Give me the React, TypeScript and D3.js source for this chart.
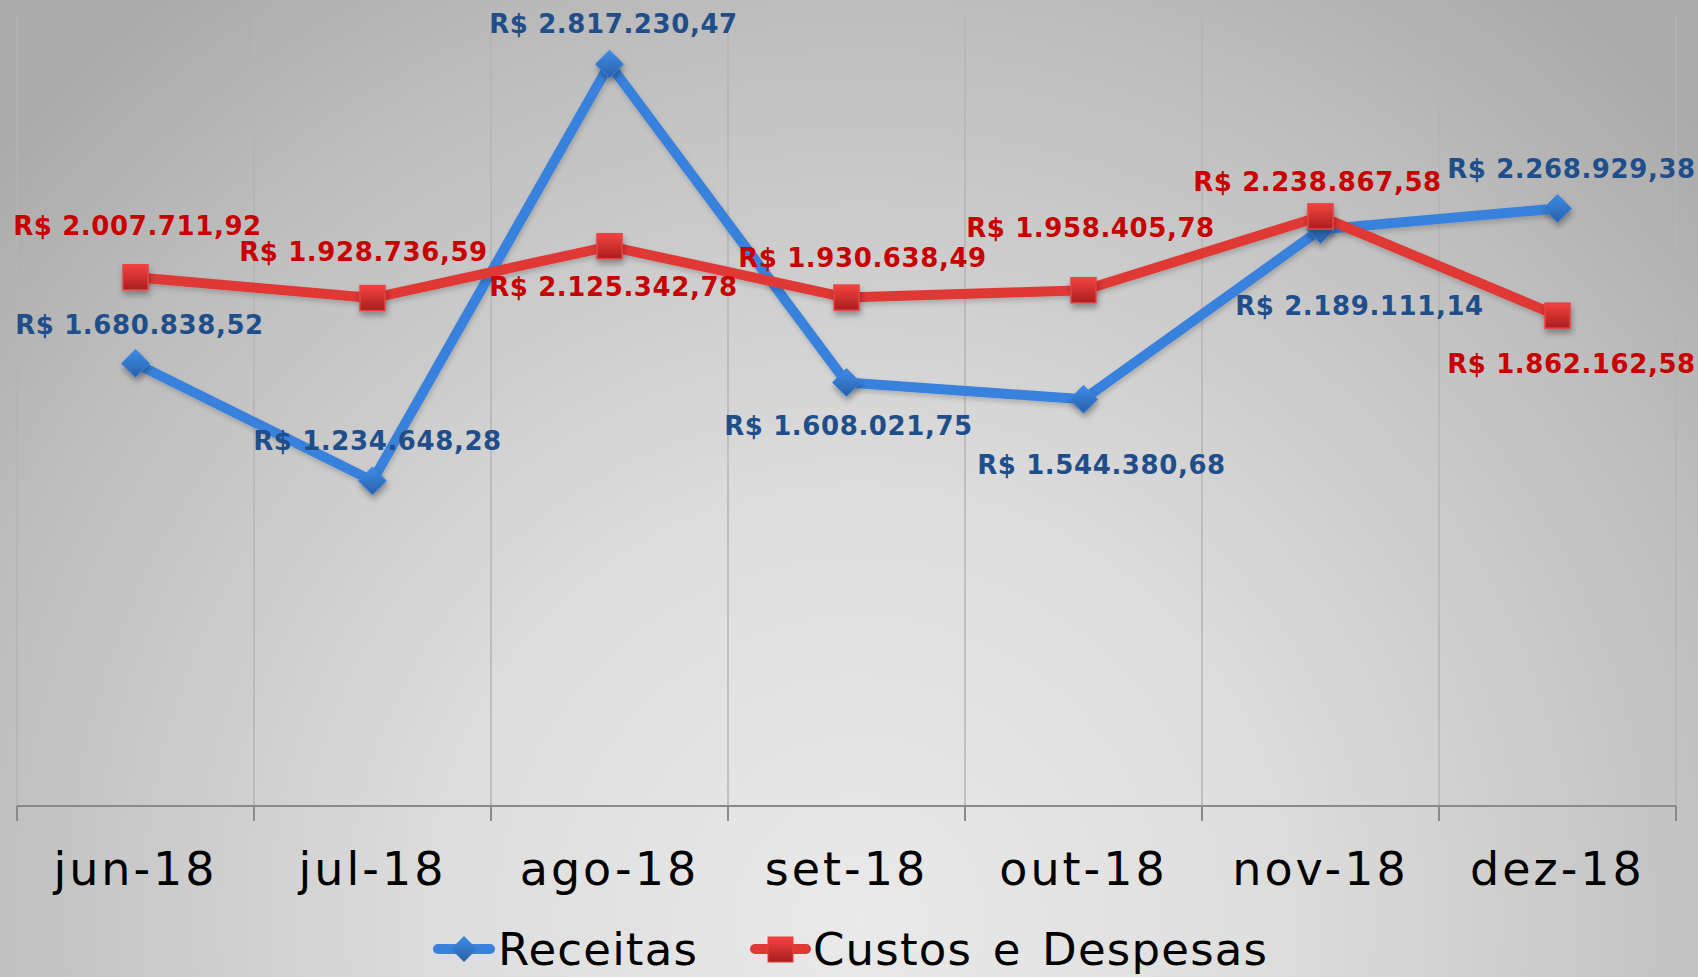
import React from 'react'
import * as d3 from 'd3'

const months = ['jun-18', 'jul-18', 'ago-18', 'set-18', 'out-18', 'nov-18', 'dez-18']
const receitas = [1680838.52, 1234648.28, 2817230.47, 1608021.75, 1544380.68, 2189111.14, 2268929.38]
const custos = [2007711.92, 1928736.59, 2125342.78, 1930638.49, 1958405.78, 2238867.58, 1862162.58]
const seriesNames = ['Receitas', 'Custos e Despesas']

// manual label offsets (dx, baseline dy) like the hand-placed excel labels
const recOffsets = [[4, -29], [5, -31], [4, -31], [2, 52], [18, 75], [39, 85], [14, -31]]
const cusOffsets = [[2, -42], [-9, -37], [4, 50], [16, -31], [7, -53], [-3, -25], [14, 57]]

const W = 1698
const H = 977
const left = 17
const right = 1676
const top = 16
const bottom = 806

const brl = d3.formatLocale({ decimal: ',', thousands: '.', grouping: [3], currency: ['R$ ', ''] }).format('$,.2f')

export default function App () {
  const x = d3.scaleBand().domain(months).range([left, right]).padding(0)
  const y = d3.scaleLinear().domain([0, 3000000]).range([bottom, top])
  const cx = (m: string) => (x(m) as number) + x.bandwidth() / 2

  const line = d3.line<number>()
    .x((d, i) => cx(months[i]))
    .y(d => y(d))

  const bounds = [...months.map(m => x(m) as number), right]

  const diamond = (px: number, py: number, s: number) =>
    `M${px},${py - s} L${px + s},${py} L${px},${py + s} L${px - s},${py} Z`

  const recColor = '#3981dc'
  const cusColor = '#e03836'
  const font = "'DejaVu Sans', Verdana, sans-serif"

  return (
    <svg width={W} height={H} style={{ position: 'absolute', left: 0, top: 0 }}>
      <defs>
        <radialGradient id="bg" gradientUnits="userSpaceOnUse" cx={860} cy={920} r={1150}>
          <stop offset="0" stopColor="#e9e9e9" />
          <stop offset="0.35" stopColor="#dedede" />
          <stop offset="0.8" stopColor="#bdbdbd" />
          <stop offset="1" stopColor="#ababab" />
        </radialGradient>
        <linearGradient id="sq" x1="0" y1="0" x2="0" y2="1">
          <stop offset="0" stopColor="#f5423f" />
          <stop offset="1" stopColor="#a81e1e" />
        </linearGradient>
        <linearGradient id="dm" x1="0" y1="0" x2="0" y2="1">
          <stop offset="0" stopColor="#3d8ce8" />
          <stop offset="1" stopColor="#2a60aa" />
        </linearGradient>
        <filter id="shadow" x="-50%" y="-50%" width="200%" height="200%">
          <feDropShadow dx="1" dy="4" stdDeviation="3" floodColor="#000" floodOpacity="0.35" />
        </filter>
        <filter id="lshadow" x="-10%" y="-10%" width="120%" height="120%">
          <feDropShadow dx="1" dy="3" stdDeviation="2.5" floodColor="#000" floodOpacity="0.18" />
        </filter>
      </defs>
      <rect width={W} height={H} fill="url(#bg)" />

      {/* vertical gridlines */}
      {bounds.map((b, i) => (
        <line key={'g' + i} x1={b} x2={b} y1={top} y2={bottom} stroke="#b4b4b4" strokeWidth={1.5} />
      ))}
      {/* axis */}
      <line x1={left} x2={right} y1={bottom} y2={bottom} stroke="#8a8a8a" strokeWidth={2} />
      {bounds.map((b, i) => (
        <line key={'t' + i} x1={b} x2={b} y1={bottom} y2={bottom + 15} stroke="#8a8a8a" strokeWidth={2} />
      ))}
      {months.map(m => (
        <text key={m} x={cx(m)} y={885} textAnchor="middle" fontFamily={font}
          fontSize={46} letterSpacing={3} fill="#000">{m}</text>
      ))}

      {/* lines */}
      <path d={line(receitas) || ''} fill="none" stroke={recColor} strokeWidth={10} strokeLinejoin="round" filter="url(#lshadow)" />
      <path d={line(custos) || ''} fill="none" stroke={cusColor} strokeWidth={10} strokeLinejoin="round" filter="url(#lshadow)" />

      {/* markers */}
      {receitas.map((v, i) => (
        <path key={'rm' + i} d={diamond(cx(months[i]), y(v), 14)} fill="url(#dm)" stroke="#3a86e0" strokeWidth={1} filter="url(#shadow)" />
      ))}
      {custos.map((v, i) => (
        <rect key={'cm' + i} x={cx(months[i]) - 12.5} y={y(v) - 12.5} width={25} height={25}
          fill="url(#sq)" stroke="#e84040" strokeWidth={1.5} filter="url(#shadow)" />
      ))}

      {/* data labels */}
      {receitas.map((v, i) => (
        <text key={'rl' + i} x={cx(months[i]) + recOffsets[i][0]} y={y(v) + recOffsets[i][1]} textAnchor="middle"
          fontFamily={font} fontWeight="bold" fontSize={26} letterSpacing={0.6} fill="#1f4e8a">{brl(v)}</text>
      ))}
      {custos.map((v, i) => (
        <text key={'cl' + i} x={cx(months[i]) + cusOffsets[i][0]} y={y(v) + cusOffsets[i][1]} textAnchor="middle"
          fontFamily={font} fontWeight="bold" fontSize={26} letterSpacing={0.6} fill="#c80000">{brl(v)}</text>
      ))}

      {/* legend */}
      <g fontFamily={font} fontSize={45} fill="#000" letterSpacing={1.2} wordSpacing={5}>
        <line x1={438} x2={490} y1={949} y2={949} stroke={recColor} strokeWidth={10} strokeLinecap="round" />
        <path d={diamond(464, 949, 13)} fill="url(#dm)" />
        <text x={498} y={965}>{seriesNames[0]}</text>
        <line x1={755} x2={806} y1={949} y2={949} stroke={cusColor} strokeWidth={10} strokeLinecap="round" />
        <rect x={768} y={937} width={25} height={25} fill="url(#sq)" stroke="#e84040" strokeWidth={1} />
        <text x={813} y={965}>{seriesNames[1]}</text>
      </g>
    </svg>
  )
}
